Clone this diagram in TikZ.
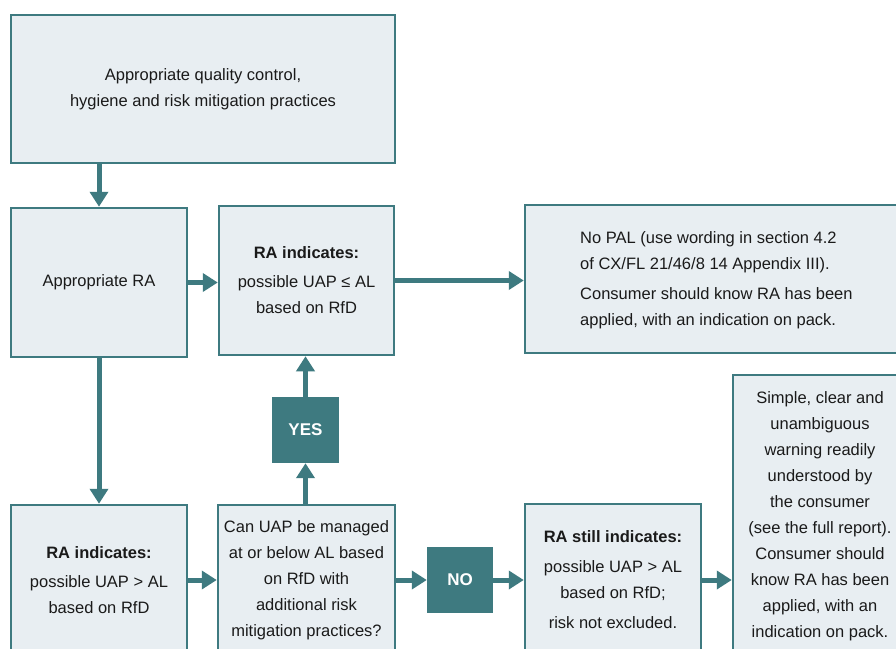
\documentclass[tikz,border=0pt]{standalone}
\usepackage{fontspec}
\setmainfont{Liberation Sans}
\usetikzlibrary{arrows.meta}
\definecolor{teal1}{HTML}{3E7A80}
\definecolor{boxfill}{HTML}{E8EEF2}
\definecolor{txt}{HTML}{1A1A1A}
\begin{document}
\begin{tikzpicture}[x=1pt,y=-1pt,
 box/.style={draw=teal1, line width=2.5pt, fill=boxfill, text=txt, align=center, inner sep=0pt,
   font=\fontsize{16.5}{26}\selectfont},
 plain/.style={text=txt, inner sep=0pt, font=\fontsize{16.5}{26}\selectfont},
 tag/.style={fill=teal1, text=white, font=\bfseries\fontsize{17}{20}\selectfont,
   minimum width=67pt, minimum height=66pt, inner sep=0pt},
 flow/.style={draw=teal1, line width=5pt, -{Triangle[width=18pt,length=15pt]}},
]
\clip (0,0) rectangle (896,648);
\fill[white] (0,0) rectangle (896,648);

\node[box, minimum width=384pt, minimum height=148pt] (top) at (203,89)
  {Appropriate quality control,\\hygiene and risk mitigation practices};
\node[box, minimum width=176pt, minimum height=149pt] (ra) at (99,282.5)
  {Appropriate RA};
\node[box, minimum width=175pt, minimum height=149pt] (ind) at (306.5,280.5)
  {\textbf{RA indicates:}\\[3pt]possible UAP ≤ AL\\based on RfD};
\node[box, minimum width=380pt, minimum height=148pt] (nopal) at (715,279) {};
\node[plain, anchor=west, align=left] (nopaltext) at (580,280.5)
  {No PAL (use wording in section 4.2\\of CX/FL 21/46/8 14 Appendix III).\\[4pt]Consumer should know RA has been\\applied, with an indication on pack.};

\node[box, minimum width=176pt, minimum height=150pt] (bl) at (99,580)
  {\textbf{RA indicates:}\\[3pt]possible UAP > AL\\based on RfD};
\node[box, minimum width=177pt, minimum height=150pt] (q) at (306.5,580)
  {Can UAP be managed\\at or below AL based\\on RfD with\\additional risk\\mitigation practices?};
\node[tag] (yes) at (305.5,430) {YES};
\node[tag, minimum width=66pt] (no) at (460,580) {NO};
\node[box, minimum width=176pt, minimum height=152pt] (still) at (613,580)
  {\textbf{RA still indicates:}\\[4pt]possible UAP > AL\\based on RfD;\\[4pt]risk not excluded.};
\node[box, minimum width=174pt, minimum height=282pt] (warn) at (820,516)
  {Simple, clear and\\unambiguous\\warning readily\\understood by\\the consumer\\(see the full report).\\Consumer should\\know RA has been\\applied, with an\\indication on pack.};

\draw[flow] (top.south -| ra.north) -- (ra.north);
\draw[flow] (ra.east) -- (ra.east -| ind.west);
\draw[flow] (ind.east) -- (ind.east -| nopal.west);
\draw[flow] (ra.south) -- (bl.north);
\draw[flow] (bl.east) -- (q.west);
\draw[flow] (q.north -| yes.south) -- (yes.south);
\draw[flow] (yes.north) -- (yes.north |- ind.south);
\draw[flow] (q.east) -- (no.west);
\draw[flow] (no.east) -- (still.west);
\draw[flow] (still.east) -- (still.east -| warn.west);
\end{tikzpicture}
\end{document}
